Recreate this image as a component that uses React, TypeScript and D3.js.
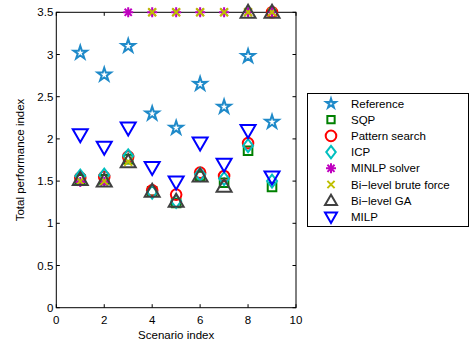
import React from "react";
import * as d3 from "d3";

const scenarios = [1, 2, 3, 4, 5, 6, 7, 8, 9];
const reference = [3.02, 2.76, 3.1, 2.3, 2.13, 2.65, 2.38, 2.98, 2.2];
const sqp = [1.52, 1.52, 1.76, 1.38, 1.24, 1.56, 1.48, 1.86, 1.43];
const patternSearch = [1.54, 1.55, 1.79, 1.39, 1.34, 1.6, 1.56, 1.95, 3.5];
const icp = [1.56, 1.57, 1.8, 1.37, 1.26, 1.58, 1.53, 1.92, 1.5];
const minlp = [1.49, 1.49, 3.5, 3.5, 3.5, 3.5, 3.5, 3.5, 3.5];
const bruteForce = [1.5, 1.5, 1.73, 3.5, 3.5, 3.5, 3.5, 3.5, 3.5];
const bilevelGA = [1.52, 1.5, 1.73, 1.38, 1.26, 1.56, 1.44, 3.5, 3.5];
const milp = [2.05, 1.9, 2.13, 1.66, 1.49, 1.95, 1.7, 2.1, 1.55];

const xTicks = [0, 2, 4, 6, 8, 10];
const yTicks = [0, 0.5, 1, 1.5, 2, 2.5, 3, 3.5];

type Series = { name: string; values: number[]; marker: string; color: string };
const series: Series[] = [
  { name: "Reference", values: reference, marker: "star", color: "#1f8ac9" },
  { name: "SQP", values: sqp, marker: "square", color: "#008000" },
  { name: "Pattern search", values: patternSearch, marker: "circle", color: "#ff0000" },
  { name: "ICP", values: icp, marker: "diamond", color: "#00bfbf" },
  { name: "MINLP solver", values: minlp, marker: "asterisk", color: "#bf00bf" },
  { name: "Bi\u2212level brute force", values: bruteForce, marker: "x", color: "#bfbf00" },
  { name: "Bi\u2212level GA", values: bilevelGA, marker: "triangleUp", color: "#404040" },
  { name: "MILP", values: milp, marker: "triangleDown", color: "#0000ff" },
];

function markerPath(type: string, k = 1): string {
  const p = d3.path();
  if (type === "star") {
    const R = 7 * k, r = R * 0.38;
    for (let i = 0; i < 10; i++) {
      const a = -Math.PI / 2 + (i * Math.PI) / 5;
      const rr = i % 2 === 0 ? R : r;
      if (i === 0) p.moveTo(rr * Math.cos(a), rr * Math.sin(a));
      else p.lineTo(rr * Math.cos(a), rr * Math.sin(a));
    }
    p.closePath();
  } else if (type === "square") {
    const s = 4.3 * k;
    p.rect(-s, -s, 2 * s, 2 * s);
  } else if (type === "circle") {
    const r = 5.3 * k;
    p.moveTo(r, 0);
    p.arc(0, 0, r, 0, Math.PI * 2);
    p.closePath();
  } else if (type === "diamond") {
    p.moveTo(0, -6.5 * k);
    p.lineTo(5 * k, 0);
    p.lineTo(0, 6.5 * k);
    p.lineTo(-5 * k, 0);
    p.closePath();
  } else if (type === "asterisk") {
    const r = 5 * k;
    for (let i = 0; i < 4; i++) {
      const a = (i * Math.PI) / 4;
      p.moveTo(-r * Math.cos(a), -r * Math.sin(a));
      p.lineTo(r * Math.cos(a), r * Math.sin(a));
    }
  } else if (type === "x") {
    const r = 4 * k;
    p.moveTo(-r, -r);
    p.lineTo(r, r);
    p.moveTo(-r, r);
    p.lineTo(r, -r);
  } else if (type === "triangleUp") {
    p.moveTo(0, -7.5 * k);
    p.lineTo(7.5 * k, 5.5 * k);
    p.lineTo(-7.5 * k, 5.5 * k);
    p.closePath();
  } else if (type === "triangleDown") {
    p.moveTo(0, 7.5 * k);
    p.lineTo(7.5 * k, -5.5 * k);
    p.lineTo(-7.5 * k, -5.5 * k);
    p.closePath();
  }
  return p.toString();
}

export default function App() {
  const W = 469, H = 345;
  const left = 56.3, right = 296, top = 12.3, bottom = 307.7;
  const x = d3.scaleLinear().domain([0, 10]).range([left, right]);
  const y = d3.scaleLinear().domain([0, 3.5]).range([bottom, top]);
  const font = "Liberation Sans, Arial, Helvetica, sans-serif";
  const tick = 3.5;

  const legendX = 307.5, legendY = 93.5, legendW = 161, legendH = 133;
  const rowH = 16.2;
  const legendScale: Record<string, number> = { star: 0.72, square: 0.85, circle: 1, diamond: 0.95, asterisk: 1, x: 0.9, triangleUp: 0.8, triangleDown: 0.8 };

  return (
    <svg width={W} height={H} style={{ position: "absolute", left: 0, top: 0, background: "#fff" }} fontFamily={font}>
      <rect x={0} y={0} width={W} height={H} fill="#fff" />
      <rect x={left} y={top} width={right - left} height={bottom - top} fill="#fff" stroke="#000" strokeWidth={1} />
      {xTicks.map((t) => (
        <g key={"xt" + t}>
          <line x1={x(t)} x2={x(t)} y1={bottom} y2={bottom - tick} stroke="#000" />
          <line x1={x(t)} x2={x(t)} y1={top} y2={top + tick} stroke="#000" />
          <text x={x(t)} y={324} textAnchor="middle" fontSize={11.5} fill="#000">{t}</text>
        </g>
      ))}
      {yTicks.map((t) => (
        <g key={"yt" + t}>
          <line x1={left} x2={left + tick} y1={y(t)} y2={y(t)} stroke="#000" />
          <line x1={right} x2={right - tick} y1={y(t)} y2={y(t)} stroke="#000" />
          <text x={left - 3} y={y(t) + 4} textAnchor="end" fontSize={11.5} fill="#000">{t}</text>
        </g>
      ))}
      <text x={(left + right) / 2} y={339} textAnchor="middle" fontSize={11.5} fill="#000">Scenario index</text>
      <text transform={`translate(24,${(top + bottom) / 2}) rotate(-90)`} textAnchor="middle" fontSize={11.5} fill="#000">Total performance index</text>

      {series.map((s) => (
        <g key={s.name}>
          {s.values.map((v, i) => (
            <path
              key={i}
              d={markerPath(s.marker)}
              transform={`translate(${x(scenarios[i])},${y(v)})`}
              fill="none"
              stroke={s.color}
              strokeWidth={2}
              strokeLinejoin="miter"
            />
          ))}
        </g>
      ))}

      <rect x={legendX} y={legendY} width={legendW} height={legendH} fill="#fff" stroke="#000" strokeWidth={1} />
      {series.map((s, i) => {
        const cy = legendY + 10 + i * rowH;
        return (
          <g key={"lg" + s.name}>
            <path
              d={markerPath(s.marker, legendScale[s.marker])}
              transform={`translate(331,${cy})`}
              fill="none"
              stroke={s.color}
              strokeWidth={2}
            />
            <text x={351} y={cy + 4} fontSize={11.5} fill="#000">{s.name}</text>
          </g>
        );
      })}
    </svg>
  );
}
